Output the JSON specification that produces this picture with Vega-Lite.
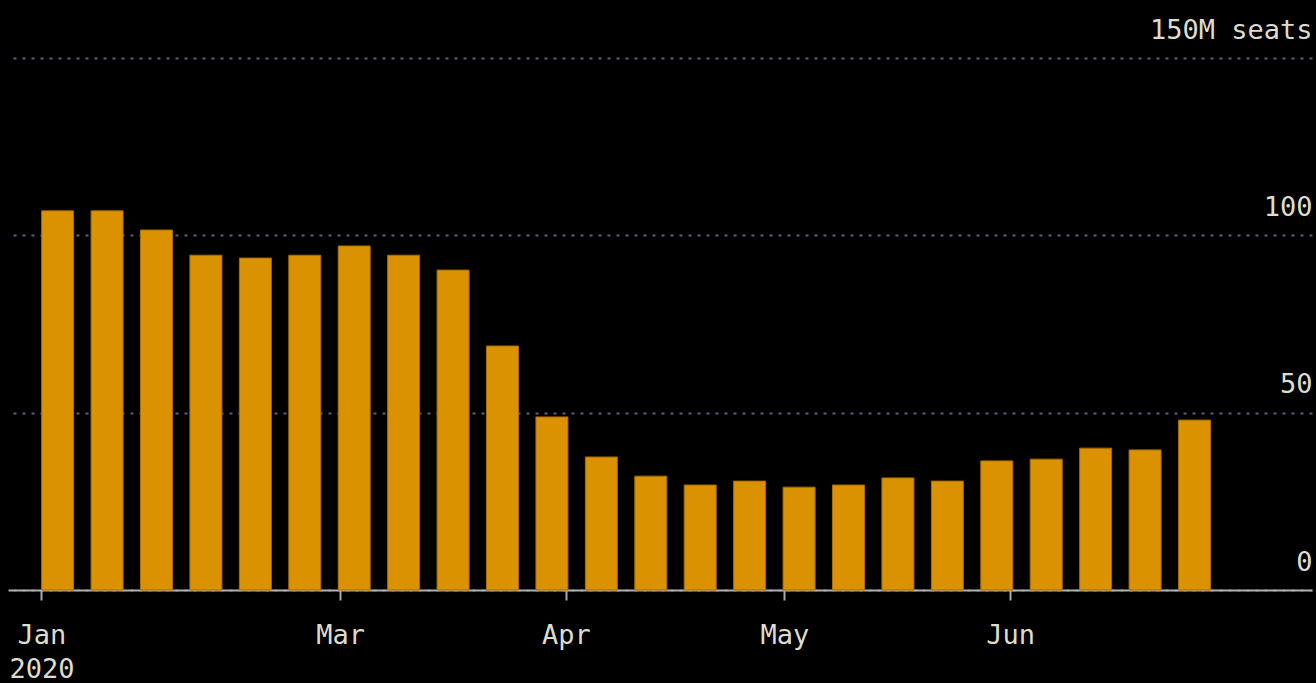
{
  "$schema": "https://vega.github.io/schema/vega-lite/v6.json",
  "width": 1304,
  "height": 532,
  "autosize": "none",
  "padding": {"left": 8, "top": 58, "right": 4, "bottom": 93},
  "background": "#000000",
  "config": {"view": {"stroke": null}, "font": "DejaVu Sans Mono"},
  "data": {
    "values": [
      {"week": "2020-01-22T05:24", "seats": 106.9},
      {"week": "2020-01-29T00:17", "seats": 106.9},
      {"week": "2020-02-04T19:10", "seats": 101.5},
      {"week": "2020-02-11T14:04", "seats": 94.4},
      {"week": "2020-02-18T08:57", "seats": 93.6},
      {"week": "2020-02-25T03:50", "seats": 94.4},
      {"week": "2020-03-02T22:44", "seats": 97.0},
      {"week": "2020-03-09T17:37", "seats": 94.4},
      {"week": "2020-03-16T12:30", "seats": 90.2},
      {"week": "2020-03-23T07:24", "seats": 68.8},
      {"week": "2020-03-30T02:17", "seats": 48.8},
      {"week": "2020-04-05T21:10", "seats": 37.5},
      {"week": "2020-04-12T16:03", "seats": 32.1},
      {"week": "2020-04-19T10:57", "seats": 29.6},
      {"week": "2020-04-26T05:50", "seats": 30.7},
      {"week": "2020-05-03T00:43", "seats": 29.0},
      {"week": "2020-05-09T19:36", "seats": 29.6},
      {"week": "2020-05-16T14:30", "seats": 31.6},
      {"week": "2020-05-23T09:23", "seats": 30.7},
      {"week": "2020-05-30T04:16", "seats": 36.4},
      {"week": "2020-06-05T23:10", "seats": 36.9},
      {"week": "2020-06-12T18:03", "seats": 40.0},
      {"week": "2020-06-19T12:56", "seats": 39.5},
      {"week": "2020-06-26T07:49", "seats": 47.9}
    ]
  },
  "mark": {"type": "bar", "width": 32, "color": "#db9200", "stroke": "#a86c00", "strokeWidth": 1},
  "encoding": {
    "x": {
      "field": "week",
      "type": "temporal",
      "scale": {
        "padding": 0,
        "domain": [
          {"year": 2020, "month": 1, "date": 15, "hours": 9, "minutes": 50},
          {"year": 2020, "month": 7, "date": 12, "hours": 11}
        ]
      },
      "axis": {
        "title": null,
        "grid": false,
        "values": [
          {"year": 2020, "month": 1, "date": 20},
          {"year": 2020, "month": 3, "date": 1},
          {"year": 2020, "month": 4, "date": 1},
          {"year": 2020, "month": 5, "date": 1},
          {"year": 2020, "month": 6, "date": 1}
        ],
        "labelExpr": "month(datum.value) == 0 ? ['Jan', '2020'] : timeFormat(datum.value, '%b')",
        "domainColor": "#b0b0b0",
        "domainWidth": 2,
        "tickColor": "#a8a8b4",
        "tickSize": 10,
        "tickWidth": 2,
        "labelColor": "#dedccc",
        "labelFontSize": 27,
        "labelPadding": 43,
        "labelAlign": "center",
        "labelBaseline": "alphabetic",
        "labelLineHeight": 34,
        "labelFlush": false,
        "labelOverlap": false
      }
    },
    "y": {
      "field": "seats",
      "type": "quantitative",
      "scale": {"domain": [0, 150], "nice": false},
      "axis": {
        "title": null,
        "orient": "right",
        "values": [0, 50, 100, 150],
        "grid": true,
        "gridColor": "#5c5c88",
        "gridDash": [3, 6],
        "gridWidth": 2,
        "ticks": false,
        "tickSize": 0,
        "domain": false,
        "labelAlign": "right",
        "labelPadding": 0,
        "labelBaseline": "alphabetic",
        "labelOffset": -20,
        "labelExpr": "datum.value == 150 ? '150M seats' : datum.label",
        "labelFontSize": 27,
        "labelColor": "#dedccc",
        "labelFlush": false,
        "labelOverlap": false
      }
    }
  }
}
